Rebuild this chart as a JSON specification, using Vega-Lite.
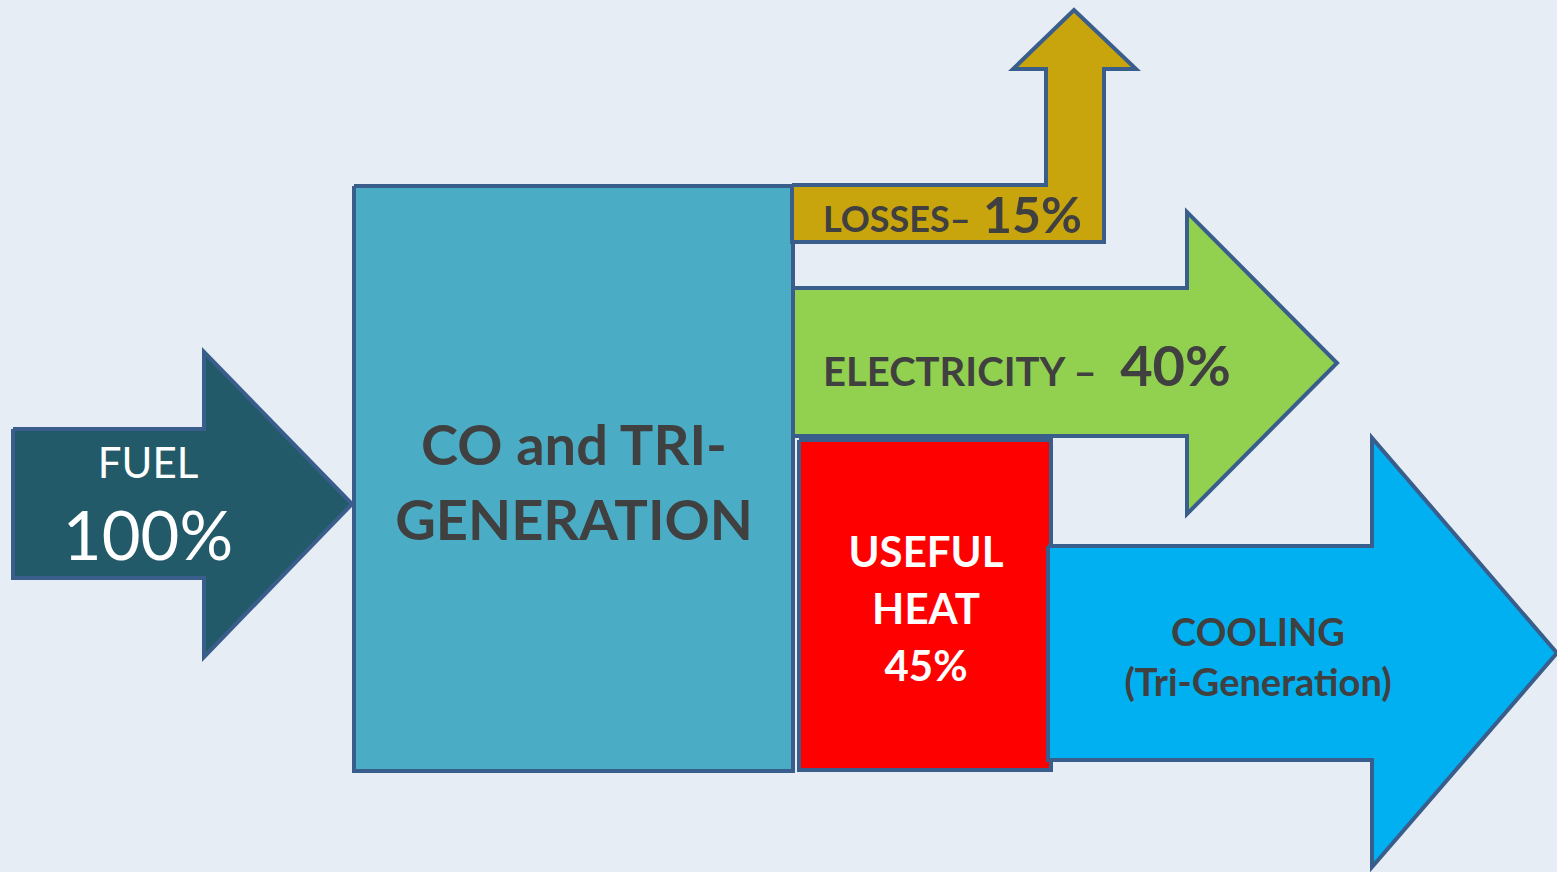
{
  "$schema": "https://vega.github.io/schema/vega-lite/v6.json",
  "width": 1557,
  "height": 872,
  "padding": 0,
  "autosize": "none",
  "background": "#e7edf5",
  "config": {"view": {"stroke": null}},
  "datasets": {
    "shapes": [
      {"shape": "fuel", "i": 0, "x": 13, "y": 429},
      {"shape": "fuel", "i": 1, "x": 204, "y": 429},
      {"shape": "fuel", "i": 2, "x": 204, "y": 352},
      {"shape": "fuel", "i": 3, "x": 352, "y": 504},
      {"shape": "fuel", "i": 4, "x": 204, "y": 657},
      {"shape": "fuel", "i": 5, "x": 204, "y": 578},
      {"shape": "fuel", "i": 6, "x": 13, "y": 578},
      {"shape": "fuel", "i": 7, "x": 13, "y": 429},
      {"shape": "cogen", "i": 0, "x": 354, "y": 186},
      {"shape": "cogen", "i": 1, "x": 793, "y": 186},
      {"shape": "cogen", "i": 2, "x": 793, "y": 771},
      {"shape": "cogen", "i": 3, "x": 354, "y": 771},
      {"shape": "cogen", "i": 4, "x": 354, "y": 186},
      {"shape": "losses", "i": 0, "x": 792, "y": 185},
      {"shape": "losses", "i": 1, "x": 1046, "y": 185},
      {"shape": "losses", "i": 2, "x": 1046, "y": 69},
      {"shape": "losses", "i": 3, "x": 1013, "y": 69},
      {"shape": "losses", "i": 4, "x": 1074, "y": 10},
      {"shape": "losses", "i": 5, "x": 1136, "y": 69},
      {"shape": "losses", "i": 6, "x": 1104, "y": 69},
      {"shape": "losses", "i": 7, "x": 1104, "y": 242},
      {"shape": "losses", "i": 8, "x": 792, "y": 242},
      {"shape": "losses", "i": 9, "x": 792, "y": 185},
      {"shape": "electricity", "i": 0, "x": 793, "y": 288},
      {"shape": "electricity", "i": 1, "x": 1187, "y": 288},
      {"shape": "electricity", "i": 2, "x": 1187, "y": 212},
      {"shape": "electricity", "i": 3, "x": 1337, "y": 363},
      {"shape": "electricity", "i": 4, "x": 1187, "y": 514},
      {"shape": "electricity", "i": 5, "x": 1187, "y": 436},
      {"shape": "electricity", "i": 6, "x": 793, "y": 436},
      {"shape": "electricity", "i": 7, "x": 793, "y": 288},
      {"shape": "heat", "i": 0, "x": 799, "y": 440},
      {"shape": "heat", "i": 1, "x": 1051, "y": 440},
      {"shape": "heat", "i": 2, "x": 1051, "y": 770},
      {"shape": "heat", "i": 3, "x": 799, "y": 770},
      {"shape": "heat", "i": 4, "x": 799, "y": 440},
      {"shape": "cooling", "i": 0, "x": 1048, "y": 546},
      {"shape": "cooling", "i": 1, "x": 1372, "y": 546},
      {"shape": "cooling", "i": 2, "x": 1372, "y": 438},
      {"shape": "cooling", "i": 3, "x": 1557, "y": 653},
      {"shape": "cooling", "i": 4, "x": 1372, "y": 867},
      {"shape": "cooling", "i": 5, "x": 1372, "y": 760},
      {"shape": "cooling", "i": 6, "x": 1048, "y": 760},
      {"shape": "cooling", "i": 7, "x": 1048, "y": 546}
    ],
    "labels": [
      {"kind": "fuelA", "x": 148, "y": 478, "text": "FUEL"},
      {"kind": "fuelB", "x": 148, "y": 560, "text": "100%"},
      {"kind": "cogen", "x": 574, "y": 465, "text": "CO and TRI-"},
      {"kind": "cogen", "x": 574, "y": 540, "text": "GENERATION"},
      {"kind": "lossA", "x": 823, "y": 232, "text": "LOSSES–"},
      {"kind": "lossB", "x": 1082, "y": 233, "text": "15%"},
      {"kind": "elecA", "x": 823, "y": 386, "text": "ELECTRICITY –"},
      {"kind": "elecB", "x": 1231, "y": 386, "text": "40%"},
      {"kind": "heat", "x": 926, "y": 567, "text": "USEFUL"},
      {"kind": "heat", "x": 926, "y": 624, "text": "HEAT"},
      {"kind": "heat", "x": 926, "y": 681, "text": "45%"},
      {"kind": "cool", "x": 1258, "y": 646, "text": "COOLING"},
      {"kind": "cool", "x": 1258, "y": 696, "text": "(Tri-Generation)"}
    ]
  },
  "encoding": {
    "x": {"field": "x", "type": "quantitative", "scale": {"domain": [0, 1557], "nice": false, "zero": false}, "axis": null},
    "y": {"field": "y", "type": "quantitative", "scale": {"domain": [0, 872], "nice": false, "zero": false, "reverse": true}, "axis": null}
  },
  "layer": [
    {
      "data": {"name": "shapes"},
      "mark": {"type": "line", "stroke": "#3a5e8c", "strokeWidth": 4, "strokeJoin": "miter", "strokeMiterLimit": 10, "clip": false},
      "encoding": {
        "detail": {"field": "shape", "type": "nominal"},
        "order": {"field": "i", "type": "quantitative"},
        "fill": {
          "field": "shape", "type": "nominal", "legend": null,
          "scale": {
            "domain": ["fuel", "cogen", "losses", "electricity", "heat", "cooling"],
            "range": ["#235a69", "#4bacc6", "#c9a50d", "#92d050", "#ff0000", "#00b0f0"]
          }
        }
      }
    },
    {
      "data": {"name": "labels"},
      "transform": [{"filter": "datum.kind === 'fuelA'"}],
      "mark": {"type": "text", "font": "Lato", "align": "center", "baseline": "alphabetic", "fontSize": 42, "color": "#ffffff"},
      "encoding": {"text": {"field": "text"}}
    },
    {
      "data": {"name": "labels"},
      "transform": [{"filter": "datum.kind === 'fuelB'"}],
      "mark": {"type": "text", "font": "Lato", "align": "center", "baseline": "alphabetic", "fontSize": 67, "color": "#ffffff"},
      "encoding": {"text": {"field": "text"}}
    },
    {
      "data": {"name": "labels"},
      "transform": [{"filter": "datum.kind === 'cogen'"}],
      "mark": {"type": "text", "font": "Lato", "align": "center", "baseline": "alphabetic", "fontSize": 56, "fontWeight": "bold", "color": "#404040"},
      "encoding": {"text": {"field": "text"}}
    },
    {
      "data": {"name": "labels"},
      "transform": [{"filter": "datum.kind === 'lossA'"}],
      "mark": {"type": "text", "font": "Lato", "align": "left", "baseline": "alphabetic", "fontSize": 36, "fontWeight": "bold", "color": "#404040"},
      "encoding": {"text": {"field": "text"}}
    },
    {
      "data": {"name": "labels"},
      "transform": [{"filter": "datum.kind === 'lossB'"}],
      "mark": {"type": "text", "font": "Lato", "align": "right", "baseline": "alphabetic", "fontSize": 50, "fontWeight": "bold", "color": "#404040"},
      "encoding": {"text": {"field": "text"}}
    },
    {
      "data": {"name": "labels"},
      "transform": [{"filter": "datum.kind === 'elecA'"}],
      "mark": {"type": "text", "font": "Lato", "align": "left", "baseline": "alphabetic", "fontSize": 40, "fontWeight": "bold", "color": "#404040"},
      "encoding": {"text": {"field": "text"}}
    },
    {
      "data": {"name": "labels"},
      "transform": [{"filter": "datum.kind === 'elecB'"}],
      "mark": {"type": "text", "font": "Lato", "align": "right", "baseline": "alphabetic", "fontSize": 56, "fontWeight": "bold", "color": "#404040"},
      "encoding": {"text": {"field": "text"}}
    },
    {
      "data": {"name": "labels"},
      "transform": [{"filter": "datum.kind === 'heat'"}],
      "mark": {"type": "text", "font": "Lato", "align": "center", "baseline": "alphabetic", "fontSize": 42, "fontWeight": "bold", "color": "#ffffff"},
      "encoding": {"text": {"field": "text"}}
    },
    {
      "data": {"name": "labels"},
      "transform": [{"filter": "datum.kind === 'cool'"}],
      "mark": {"type": "text", "font": "Lato", "align": "center", "baseline": "alphabetic", "fontSize": 38, "fontWeight": "bold", "color": "#404040"},
      "encoding": {"text": {"field": "text"}}
    }
  ]
}
